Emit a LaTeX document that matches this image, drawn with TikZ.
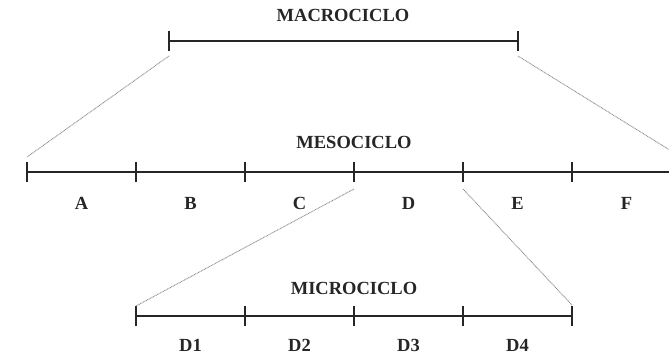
\documentclass[tikz,border=0pt]{standalone}
\usepackage{fontspec}
\setmainfont{Liberation Serif}
\begin{document}
\begin{tikzpicture}[x=1pt,y=-1pt,
  bar/.style={line width=2.8pt,draw=black!85},
  tick/.style={line width=2.8pt,draw=black!85},
  zoomline/.style={draw=black!45,line width=0.9pt,dash pattern=on 0.9pt off 0.7pt},
  lbl/.style={font=\fontsize{18.5}{22}\selectfont\bfseries,text=black!85,inner sep=0pt}]
\useasboundingbox (0,0) rectangle (669,357);
\clip (0,0) rectangle (669,357);

% macrocycle
\coordinate (M0) at (169,41);
\coordinate (M1) at (518,41);
\draw[bar] (M0) -- (M1);
\foreach \p in {M0,M1}
  \draw[tick] ([yshift=-10pt]\p) -- ([yshift=10pt]\p);
\node[lbl] (macro) at (343,15) {MACROCICLO};

% mesocycle
\foreach \i/\x in {0/27,1/136,2/245,3/354,4/463,5/572,6/681}
  \coordinate (S\i) at (\x,172);
\draw[bar] (S0) -- (S6);
\foreach \i in {0,...,6}
  \draw[tick] ([yshift=-10pt]S\i) -- ([yshift=10pt]S\i);
\node[lbl] (meso) at (354,142) {MESOCICLO};
\foreach \n/\x in {A/81.5,B/190.5,C/299.5,D/408.5,E/517.5,F/626.5}
  \node[lbl] (l\n) at (\x,203) {\n};

% microcycle
\foreach \i/\x in {0/136,1/245,2/354,3/463,4/572}
  \coordinate (m\i) at (\x,316);
\draw[bar] (m0) -- (m4);
\foreach \i in {0,...,4}
  \draw[tick] ([yshift=-10pt]m\i) -- ([yshift=10pt]m\i);
\node[lbl] (micro) at (354,288) {MICROCICLO};
\foreach \n/\x in {1/190.5,2/299.5,3/408.5,4/517.5}
  \node[lbl] (d\n) at (\x,345) {D\n};

% zoom guides
\draw[zoomline] ([yshift=-15pt]M0) -- ([yshift=15pt]S0);
\draw[zoomline] ([yshift=-15pt]M1) -- ([yshift=15pt]S6);
\draw[zoomline] ([yshift=-17pt]S3) -- ([yshift=10pt]m0);
\draw[zoomline] ([yshift=-17pt]S4) -- ([yshift=11pt]m4);
\end{tikzpicture}
\end{document}
